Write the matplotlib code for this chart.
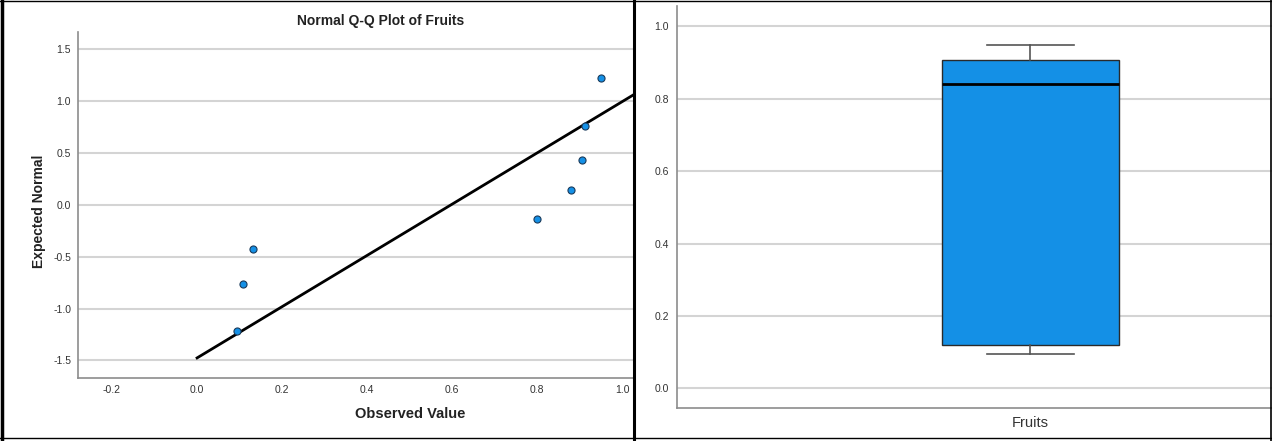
import numpy as np
import matplotlib.pyplot as plt
from matplotlib.lines import Line2D

plt.rcParams["font.family"] = ["Liberation Sans", "DejaVu Sans"]

# observed values of Fruits (sorted) and their expected normal scores
observed = [0.095, 0.108, 0.131, 0.800, 0.880, 0.905, 0.912, 0.950]
expected = [-1.22, -0.76, -0.43, -0.14, 0.14, 0.43, 0.76, 1.22]
q_yticks = [-1.5, -1.0, -0.5, 0.0, 0.5, 1.0, 1.5]
q_xticks = [-0.2, 0.0, 0.2, 0.4, 0.6, 0.8, 1.0]
box_yticks = [0.0, 0.2, 0.4, 0.6, 0.8, 1.0]
box_label = "Fruits"

W, H = 1272, 441
fig = plt.figure(figsize=(W / 100, H / 100), dpi=100)

grid_col = "#d4d4d4"
spine_col = "#8c8c8c"
tick_col = "#333333"
fill_col = "#1490e6"


def frac(x0, y0, x1, y1):
    return [x0 / W, 1 - y1 / H, (x1 - x0) / W, (y1 - y0) / H]


def style_axes(a):
    a.yaxis.grid(True, color=grid_col, lw=1.5)
    a.set_axisbelow(True)
    for s in ["top", "right"]:
        a.spines[s].set_visible(False)
    for s in ["left", "bottom"]:
        a.spines[s].set_color(spine_col)
        a.spines[s].set_linewidth(1.2)


# ---- normal Q-Q plot ----
ax = fig.add_axes(frac(78, 32, 633, 378))
ax.set_xlim(-0.28, 1.025)
ax.set_ylim(-1.669, 1.663)
ax.set_yticks(q_yticks)
ax.set_xticks(q_xticks)
ax.set_yticklabels([f"{v:.1f}" for v in q_yticks])
ax.set_xticklabels([f"{v:.1f}" for v in q_xticks])
style_axes(ax)
ax.tick_params(length=0, labelsize=7.5, colors=tick_col, pad=5)

obs = np.array(observed)
mu, sd = obs.mean(), obs.std(ddof=1)
lx = np.array([0.0, 1.1])
ax.plot(lx, (lx - mu) / sd, color="black", lw=2.0, zorder=2)
ax.scatter(observed, expected, s=26, color=fill_col, edgecolor="#1a3a5a",
           linewidth=0.8, zorder=3)

fig.text(381 / W, 1 - 21 / H, "Normal Q-Q Plot of Fruits", ha="center",
         va="center", fontsize=10, fontweight="bold", color="#222222")
fig.text(410 / W, 1 - 414 / H, "Observed Value", ha="center", va="center",
         fontsize=10.5, fontweight="bold", color="#222222")
fig.text(39 / W, 1 - 211 / H, "Expected Normal", ha="center", va="center",
         rotation=90, fontsize=10, fontweight="bold", color="#222222")

# ---- boxplot (Tukey hinges) ----
bx = fig.add_axes(frac(677, 6, 1272, 408))
srt = np.sort(obs)
half = len(srt) // 2
stats = [{
    "med": np.median(srt),
    "q1": np.median(srt[:half]),
    "q3": np.median(srt[-half:]),
    "whislo": srt.min(),
    "whishi": srt.max(),
    "label": box_label,
}]
bx.bxp(stats, positions=[1], widths=0.594, showfliers=False, patch_artist=True,
       boxprops=dict(facecolor=fill_col, edgecolor="#2a2a2a", lw=1.0),
       medianprops=dict(color="black", lw=2.0),
       whiskerprops=dict(color="#555555", lw=1.2),
       capprops=dict(color="#555555", lw=1.2), capwidths=0.29, zorder=3)
bx.set_xlim(-0.188, 1.812)
bx.set_ylim(-0.0545, 1.0565)
bx.set_yticks(box_yticks)
bx.set_yticklabels([f"{v:.1f}" for v in box_yticks])
style_axes(bx)
bx.tick_params(axis="y", length=0, labelsize=7.5, colors=tick_col, pad=6)
bx.tick_params(axis="x", length=0, labelsize=10.5, colors="#333333", pad=6)

# panel frames
fig.add_artist(Line2D([2 / W, 2 / W], [0, 1], color="black", lw=2.5))
fig.add_artist(Line2D([634 / W, 634 / W], [0, 1], color="black", lw=2.2))
fig.add_artist(Line2D([1271 / W, 1271 / W], [0, 1], color="black", lw=1.2))
fig.add_artist(Line2D([0, 1], [1 - 1 / H, 1 - 1 / H], color="black", lw=1.0))
fig.add_artist(Line2D([0, 1], [1 - 438 / H, 1 - 438 / H], color="black", lw=1.0))

fig.savefig("out.png", dpi=100)
